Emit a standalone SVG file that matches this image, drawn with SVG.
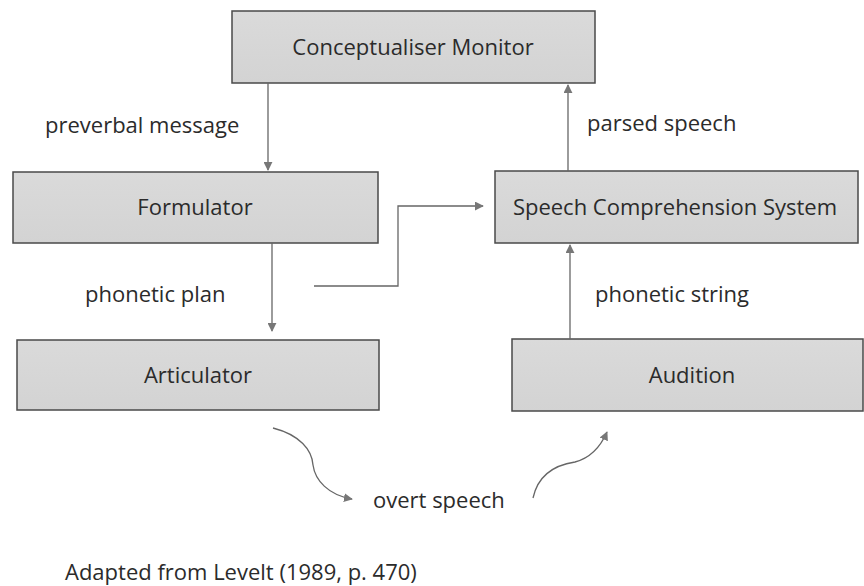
<svg xmlns="http://www.w3.org/2000/svg" width="864" height="586" viewBox="0 0 864 586">
  <defs>
    <marker id="ah" viewBox="0 0 10 10" refX="9" refY="5" markerWidth="9" markerHeight="9" markerUnits="userSpaceOnUse" orient="auto">
      <path d="M0,0 L10,5 L0,10 z" fill="#777"/>
    </marker>
    <linearGradient id="boxfill" x1="0" y1="0" x2="0" y2="1">
      <stop offset="0" stop-color="#dadada"/>
      <stop offset="1" stop-color="#d3d3d3"/>
    </linearGradient>
  </defs>
  <style>
    .box { fill: url(#boxfill); stroke: #4a4a4a; stroke-width: 1.5; }
    .lbl { font-family: "Open Sans", "Noto Sans", sans-serif; font-size: 22px; fill: #2b2b2b; }
    .mid { text-anchor: middle; }
    .wire { fill: none; stroke: #666; stroke-width: 1.3; }
  </style>
  <rect width="864" height="586" fill="#ffffff"/>

  <g id="conceptualiser">
    <rect class="box" x="232" y="11" width="363" height="72"/>
    <text class="lbl mid" x="413" y="55">Conceptualiser Monitor</text>
  </g>
  <g id="formulator">
    <rect class="box" x="13" y="172" width="365" height="71"/>
    <text class="lbl mid" x="195" y="215">Formulator</text>
  </g>
  <g id="articulator">
    <rect class="box" x="17" y="340" width="362" height="70"/>
    <text class="lbl mid" x="198" y="383">Articulator</text>
  </g>
  <g id="comprehension">
    <rect class="box" x="495" y="171" width="363" height="72"/>
    <text class="lbl mid" x="675" y="215">Speech Comprehension System</text>
  </g>
  <g id="audition">
    <rect class="box" x="512" y="339" width="351" height="72"/>
    <text class="lbl mid" x="692" y="383">Audition</text>
  </g>

  <g id="connectors">
    <line class="wire" x1="268" y1="83" x2="268" y2="170" marker-end="url(#ah)"/>
    <line class="wire" x1="568" y1="171" x2="568" y2="85" marker-end="url(#ah)"/>
    <line class="wire" x1="272" y1="243" x2="272" y2="331" marker-end="url(#ah)"/>
    <polyline class="wire" points="314,286 398,286 398,206 483,206" marker-end="url(#ah)"/>
    <line class="wire" x1="570" y1="339" x2="570" y2="245" marker-end="url(#ah)"/>
    <path class="wire" d="M273,428 C300,435 312,450 313,465 C315,480 328,495 352,499" marker-end="url(#ah)"/>
    <path class="wire" d="M533,498 C538,475 555,465 575,462 C590,458 600,448 607,432" marker-end="url(#ah)"/>
  </g>

  <g id="labels">
    <text class="lbl" x="45" y="133">preverbal message</text>
    <text class="lbl" x="587" y="131">parsed speech</text>
    <text class="lbl" x="85" y="302">phonetic plan</text>
    <text class="lbl" x="595" y="302">phonetic string</text>
    <text class="lbl" x="373" y="508">overt speech</text>
    <text class="lbl" x="65" y="580">Adapted from Levelt (1989, p. 470)</text>
  </g>
</svg>
